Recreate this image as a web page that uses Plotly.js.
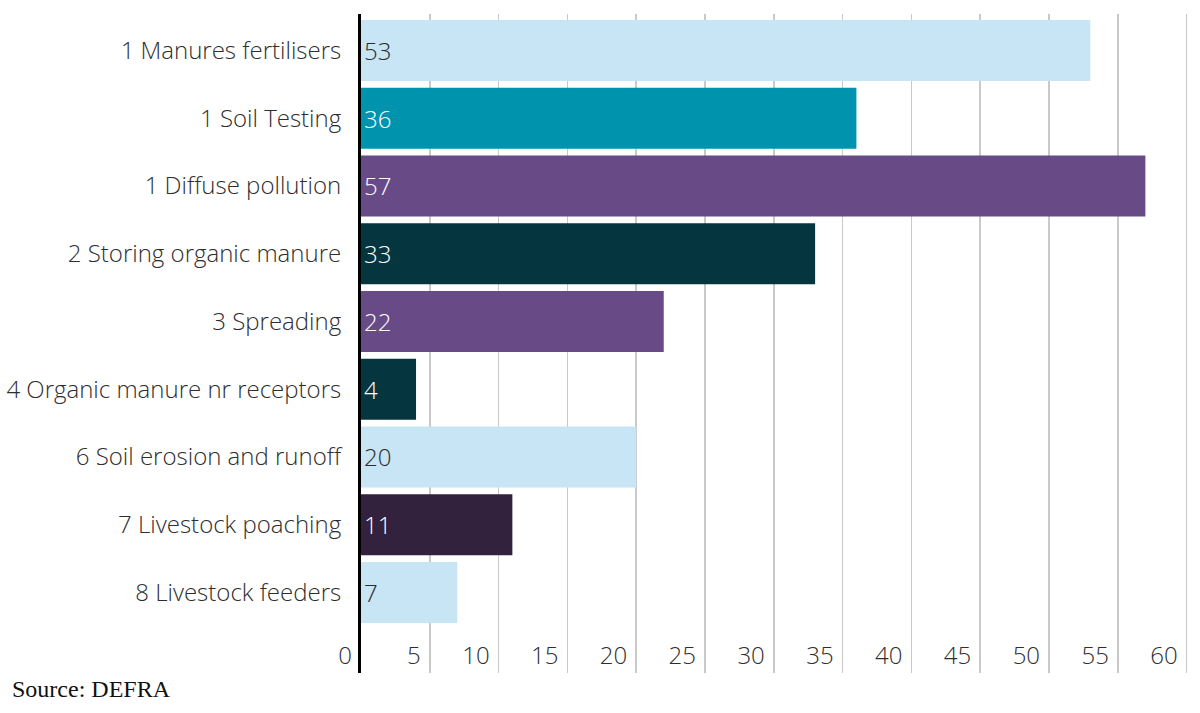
<!DOCTYPE html>
<html>
<head>
<meta charset="utf-8">
<script src="https://cdn.plot.ly/plotly-3.0.1.min.js"></script>
<style>
  html, body { margin: 0; padding: 0; background: #ffffff; }
  #chart { width: 1200px; height: 713px; }
</style>
</head>
<body>
<div id="chart"></div>
<script>
// Farm inspection breaches by rule (counts)
const categories = [
  "1 Manures fertilisers",
  "1 Soil Testing",
  "1 Diffuse pollution",
  "2 Storing organic manure",
  "3 Spreading",
  "4 Organic manure nr receptors",
  "6 Soil erosion and runoff",
  "7 Livestock poaching",
  "8 Livestock feeders"
];
const counts = [53, 36, 57, 33, 22, 4, 20, 11, 7];
const xTicks = [0, 5, 10, 15, 20, 25, 30, 35, 40, 45, 50, 55, 60];

// Bar fills and the label colour that reads on each fill
const barColors = ["#c7e5f4", "#0093ae", "#684b86", "#05353e", "#684b86", "#05353e", "#c7e5f4", "#33223d", "#c7e5f4"];
const labelColors = ["#2b2b2b", "#ffffff", "#ffffff", "#ffffff", "#ffffff", "#ffffff", "#2b2b2b", "#ffffff", "#2b2b2b"];

const FONT = "Open Sans, Noto Sans, sans-serif";

const trace = {
  type: "bar",
  orientation: "h",
  y: categories,
  x: counts,
  text: counts.map(String),
  textposition: "inside",
  insidetextanchor: "start",
  textangle: 0,
  constraintext: "none",
  cliponaxis: false,
  textfont: { family: FONT, size: 24, color: labelColors, weight: 300 },
  marker: { color: barColors, line: { width: 0 } },
  hoverinfo: "x+y"
};

const layout = {
  width: 1200,
  height: 713,
  margin: { l: 361, r: 0, t: 14, b: 40 },
  paper_bgcolor: "#ffffff",
  plot_bgcolor: "#ffffff",
  showlegend: false,
  bargap: 0.1,
  font: { family: FONT, size: 24, color: "#2e2e2e", weight: 300 },
  xaxis: {
    range: [0, 60.97],
    tickvals: xTicks,
    ticktext: xTicks.map(String),
    ticklabelposition: "inside left",
    ticklabeloverflow: "allow",
    ticklabelshift: -9,
    ticklabelstandoff: -2,
    showgrid: true,
    gridcolor: "#c9c9c9",
    gridwidth: 1.5,
    zeroline: false,
    showline: false,
    ticks: "",
    tickfont: { family: FONT, size: 24, color: "#2e2e2e", weight: 300 },
    fixedrange: true
  },
  yaxis: {
    type: "category",
    range: [9.189, -0.538],
    showgrid: false,
    zeroline: false,
    showline: true,
    linecolor: "#000000",
    linewidth: 3,
    ticks: "",
    ticklabelstandoff: 12,
    tickfont: { family: FONT, size: 24, color: "#2e2e2e", weight: 300 },
    fixedrange: true
  },
  annotations: [{
    xref: "paper", yref: "paper",
    x: -361 / 839 + 10 / 839, y: 0,
    xanchor: "left", yanchor: "middle",
    yshift: -16,
    showarrow: false,
    text: "Source: DEFRA",
    font: { family: "Liberation Serif, Times New Roman, serif", size: 24, color: "#111111" }
  }]
};

Plotly.newPlot("chart", [trace], layout, { displayModeBar: false, staticPlot: true });
</script>
</body>
</html>
